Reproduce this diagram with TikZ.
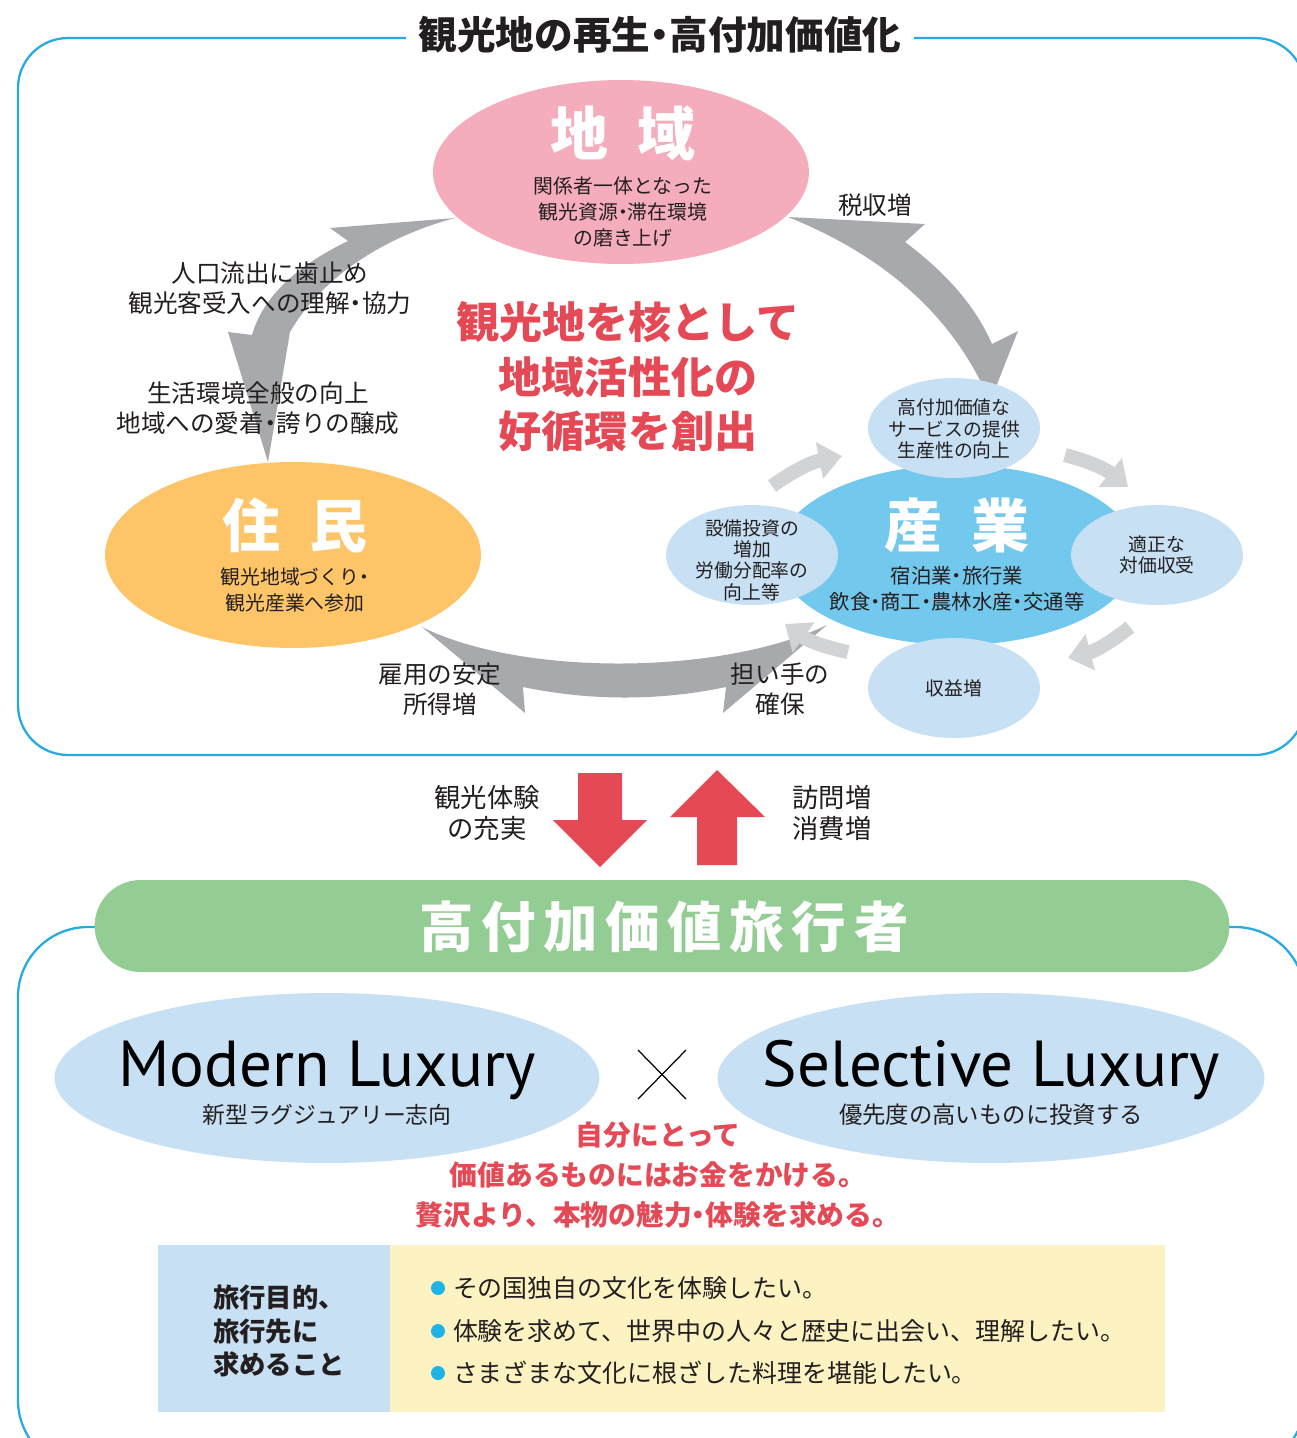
\documentclass[tikz,border=0pt]{standalone}
\usepackage{fontspec}
\newfontfamily\jp{Noto Sans CJK JP}
\newfontfamily\lat{PT Sans}
\usetikzlibrary{arrows.meta,shapes.geometric}
\definecolor{frameblue}{RGB}{40,170,225}
\definecolor{pinkE}{RGB}{245,173,189}
\definecolor{orangeE}{RGB}{253,196,104}
\definecolor{blueE}{RGB}{115,200,238}
\definecolor{lblue}{RGB}{199,224,243}
\definecolor{gray1}{RGB}{167,169,172}
\definecolor{gray2}{RGB}{209,211,212}
\definecolor{redT}{RGB}{229,73,86}
\definecolor{greenP}{RGB}{147,205,147}
\definecolor{yell}{RGB}{253,242,193}
\definecolor{darkT}{RGB}{35,31,32}
\definecolor{bulletC}{RGB}{30,180,232}
\newcommand\fsz[2]{\fontsize{#1}{#2}\selectfont}
\newcommand\nd{{\addfontfeature{RawFeature=+palt}・}}
\begin{document}
\begin{tikzpicture}[x=0.02cm,y=-0.02cm,
  every node/.style={inner sep=0pt,outer sep=0pt},
  ell/.style={ellipse,inner sep=0pt},
  smallell/.style={ell,fill=lblue,minimum width=3.44cm,minimum height=2cm},
  bigw/.style={font=\jp\bfseries\fsz{33pt}{36pt},text=white},
  sub/.style={font=\jp\fsz{11.3pt}{15pt},text=darkT,align=center},
  lab/.style={font=\jp\fsz{14pt}{17pt},text=darkT,align=center},
  stxt/.style={font=\jp\fsz{10.7pt}{12.2pt},text=darkT,align=center},
  bigarrow/.style={fill=gray1},
  smallarrow/.style={draw=gray2,line width=0.28cm,-{Triangle[width=0.72cm,length=0.46cm]}},
  redarrow/.style={fill=redT},
  frame/.style={draw=frameblue,line width=1.3pt},
  bullettxt/.style={font=\jp\fsz{14.2pt}{16pt},text=darkT,anchor=west},
  bulletdot/.style={circle,fill=bulletC,minimum size=0.28cm},
]
\clip (0,0) rectangle (1297,1438);
\fill[white] (0,0) rectangle (1297,1438);

% frames
\draw[frame,rounded corners=1cm] (18,38) rectangle (1305,755);
\draw[frame,rounded corners=1.4cm] (18,927) rectangle (1305,1470);
\node[fill=white,inner xsep=0.25cm,inner ysep=3pt,font=\jp\bfseries\fsz{22pt}{26pt},text=darkT] (title) at (660,35) {観光地の再生\nd 高付加価値化};

% big gray arrows
\fill[bigarrow] (788,217) -- (925,224) -- (905,242) .. controls (945,272) and (975,305) .. (992,344) -- (1018,331) -- (990,402) .. controls (960,330) and (900,262) .. (788,217) -- cycle;
\fill[bigarrow] (455,218) -- (330,228) -- (348,241) .. controls (292,268) and (262,300) .. (252,335) -- (228,332) -- (268,462) -- (290,332) .. controls (320,280) and (380,238) .. (455,218) -- cycle;
\fill[bigarrow] (422,627) .. controls (520,676) and (720,676) .. (827,625) -- (723,713) -- (726,687) .. controls (660,701) and (590,701) .. (523,687) -- (525,713) -- cycle;

% labels on gray arrows
\node[lab] (l1) at (270,288) {人口流出に歯止め\\観光客受入への理解\nd 協力};
\node[lab] (l2) at (258,408) {生活環境全般の向上\\地域への愛着\nd 誇りの醸成};
\node[lab] (l3) at (875,205) {税収増};
\node[lab] (l4) at (440,689) {雇用の安定\\所得増};
\node[lab] (l5) at (780,689) {担い手の\\確保};

% center text
\node[font=\jp\bfseries\fsz{24.5pt}{31pt},text=redT,align=center] (core) at (628,377) {観光地を核として\\地域活性化の\\好循環を創出};

% main ellipses
\node[ell,fill=pinkE,minimum width=7.52cm,minimum height=3.68cm] (chiiki) at (621,172) {};
\node[bigw] (chiikiT) at (623,133) {地\hspace{0.5em}域};
\node[sub] (chiikiS) at (623,212) {関係者一体となった\\観光資源\nd 滞在環境\\の磨き上げ};

\node[ell,fill=orangeE,minimum width=7.52cm,minimum height=3.72cm] (jumin) at (293,555) {};
\node[bigw] (juminT) at (295,525) {住\hspace{0.5em}民};
\node[sub] (juminS) at (295,590) {観光地域づくり\nd\\観光産業へ参加};

\node[ell,fill=blueE,minimum width=7.2cm,minimum height=3.6cm] (sangyo) at (957,555) {};
\node[bigw] (sangyoT) at (957,525) {産\hspace{0.5em}業};
\node[sub,font=\jp\fsz{11.6pt}{15pt}] (sangyoS) at (957,589) {宿泊業\nd 旅行業\\飲食\nd 商工\nd 農林水産\nd 交通等};

% small cycle arrows
\draw[smallarrow] (772,486) to[bend left=12] (842,456);
\draw[smallarrow] (1065,455) to[bend left=12] (1128,487);
\draw[smallarrow] (1130,627) to[bend left=12] (1068,658);
\draw[smallarrow] (848,652) to[bend left=12] (785,624);

% small ellipses
\node[smallell] (s1) at (954,428) {};
\node[stxt] (s1t) at (954,429) {高付加価値な\\サービスの提供\\生産性の向上};
\node[smallell] (s2) at (752,555) {};
\node[stxt] (s2t) at (752,560) {設備投資の\\増加\\労働分配率の\\向上等};
\node[smallell] (s3) at (1157,555) {};
\node[stxt] (s3t) at (1157,555) {適正な\\対価収受};
\node[smallell] (s4) at (954,688) {};
\node[stxt] (s4t) at (954,688) {収益増};

% red arrows
\fill[redarrow] (578,773) -- (622,773) -- (622,820) -- (647,820) -- (600,867) -- (553,820) -- (578,820) -- cycle;
\fill[redarrow] (717,770) -- (765,817) -- (737,817) -- (737,865) -- (697,865) -- (697,817) -- (670,817) -- cycle;
\node[font=\jp\fsz{15pt}{17.6pt},text=darkT,align=center] (exp) at (487,813) {観光体験\\の充実};
\node[font=\jp\fsz{15pt}{17.6pt},text=darkT,align=center] (visit) at (832,813) {訪問増\\消費増};

% green pill
\node[fill=greenP,rounded corners=0.92cm,minimum width=22.7cm,minimum height=1.84cm] (trav) at (662,926) {};
\node[font=\jp\bfseries\fsz{31pt}{32pt}\addfontfeature{LetterSpace=14},text=white] (travT) at (664,927) {高付加価値旅行者};

% luxury ellipses
\node[ell,fill=lblue,minimum width=10.9cm,minimum height=3.4cm] (modern) at (327,1078) {};
\node[font=\lat\fsz{37pt}{40pt},text=black] (modernT) at (327,1070) {Modern Luxury};
\node[font=\jp\fsz{13pt}{15pt},text=darkT] (modernS) at (327,1115) {新型ラグジュアリー志向};
\node[ell,fill=lblue,minimum width=10.94cm,minimum height=3.4cm] (select) at (991,1078) {};
\node[font=\lat\fsz{37pt}{40pt},text=black] (selectT) at (991,1070) {Selective Luxury};
\node[font=\jp\fsz{13.3pt}{15pt},text=darkT] (selectS) at (991,1115) {優先度の高いものに投資する};
\coordinate (x1) at (638,1050); \coordinate (x2) at (686,1099);
\coordinate (x3) at (686,1050); \coordinate (x4) at (638,1099);
\draw[line width=0.7pt] (x1) -- (x2);
\draw[line width=0.7pt] (x3) -- (x4);

\node[font=\jp\bfseries\fsz{15.8pt}{22.7pt},text=redT,align=center] (value) at (658,1175) {自分にとって\\価値あるものにはお金をかける。\\贅沢より、本物の魅力\nd 体験を求める。};

% table
\node[fill=lblue,minimum width=4.64cm,minimum height=3.34cm,anchor=north west] (tl) at (158,1245) {};
\node[fill=yell,minimum width=15.5cm,minimum height=3.34cm,anchor=north west] (tr) at (390,1245) {};
\node[font=\jp\bfseries\fsz{15pt}{19.3pt},text=darkT,align=left,anchor=west] (goal) at (213,1331) {旅行目的、\\旅行先に\\求めること};
\node[bulletdot] (b1) at (438,1288) {};
\node[bulletdot] (b2) at (438,1331) {};
\node[bulletdot] (b3) at (438,1373) {};
\node[bullettxt] (t1) at (453,1288) {その国独自の文化を体験したい。};
\node[bullettxt] (t2) at (453,1331) {体験を求めて、世界中の人々と歴史に出会い、理解したい。};
\node[bullettxt] (t3) at (453,1373) {さまざまな文化に根ざした料理を堪能したい。};
\end{tikzpicture}
\end{document}
